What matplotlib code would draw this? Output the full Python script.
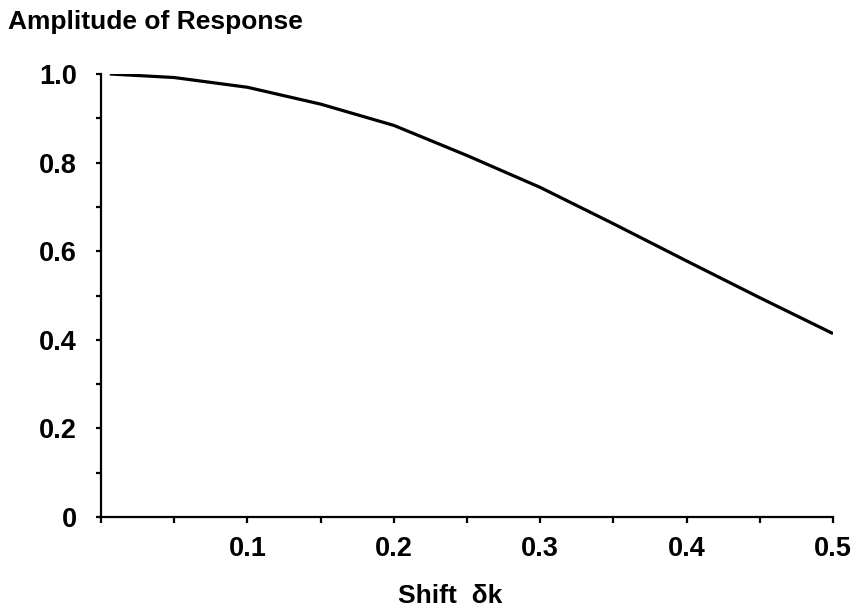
import matplotlib.pyplot as plt
from matplotlib.ticker import FixedLocator, MultipleLocator

# response amplitude vs. shift
shift = [0.006, 0.05, 0.1, 0.15, 0.2, 0.25, 0.3, 0.35, 0.4, 0.45, 0.5]
amplitude = [1.0, 0.992, 0.970, 0.932, 0.884, 0.816, 0.744, 0.662, 0.578, 0.495, 0.414]

x_ticks = [0.1, 0.2, 0.3, 0.4, 0.5]
x_labels = ["0.1", "0.2", "0.3", "0.4", "0.5"]
y_ticks = [0.0, 0.2, 0.4, 0.6, 0.8, 1.0]
y_labels = ["0", "0.2", "0.4", "0.6", "0.8", "1.0"]

plt.rcParams["font.family"] = ["Liberation Sans", "DejaVu Sans"]
plt.rcParams["font.weight"] = "bold"

fig = plt.figure(figsize=(8.68, 6.11), dpi=100)
ax = fig.add_axes([0.1164, 0.1538, 0.8433, 0.7251])

ax.plot(shift, amplitude, color="black", lw=2.3, solid_capstyle="butt")

ax.set_xlim(0, 0.5)
ax.set_ylim(0, 1.0)
for side in ("top", "right"):
    ax.spines[side].set_visible(False)
for side in ("left", "bottom"):
    ax.spines[side].set_linewidth(1.6)

ax.xaxis.set_major_locator(FixedLocator([0.0] + x_ticks))
ax.set_xticklabels([""] + x_labels)
ax.xaxis.set_minor_locator(MultipleLocator(0.05))
ax.yaxis.set_major_locator(FixedLocator(y_ticks))
ax.set_yticklabels(y_labels)
ax.yaxis.set_minor_locator(MultipleLocator(0.1))

ax.tick_params(which="both", direction="out", width=1.6, colors="black")
ax.tick_params(axis="x", which="both", length=4.5, pad=9, labelsize=19.5)
ax.tick_params(axis="y", which="both", length=3.5, pad=14, labelsize=19.5)

ax.set_xlabel("Shift  δk", fontsize=19, fontweight="bold")
ax.xaxis.set_label_coords(0.477, -0.152)
fig.text(0.009, 0.953, "Amplitude of Response", fontsize=19, fontweight="bold",
         ha="left", va="baseline")

fig.savefig("out.png", dpi=100, facecolor="white")
